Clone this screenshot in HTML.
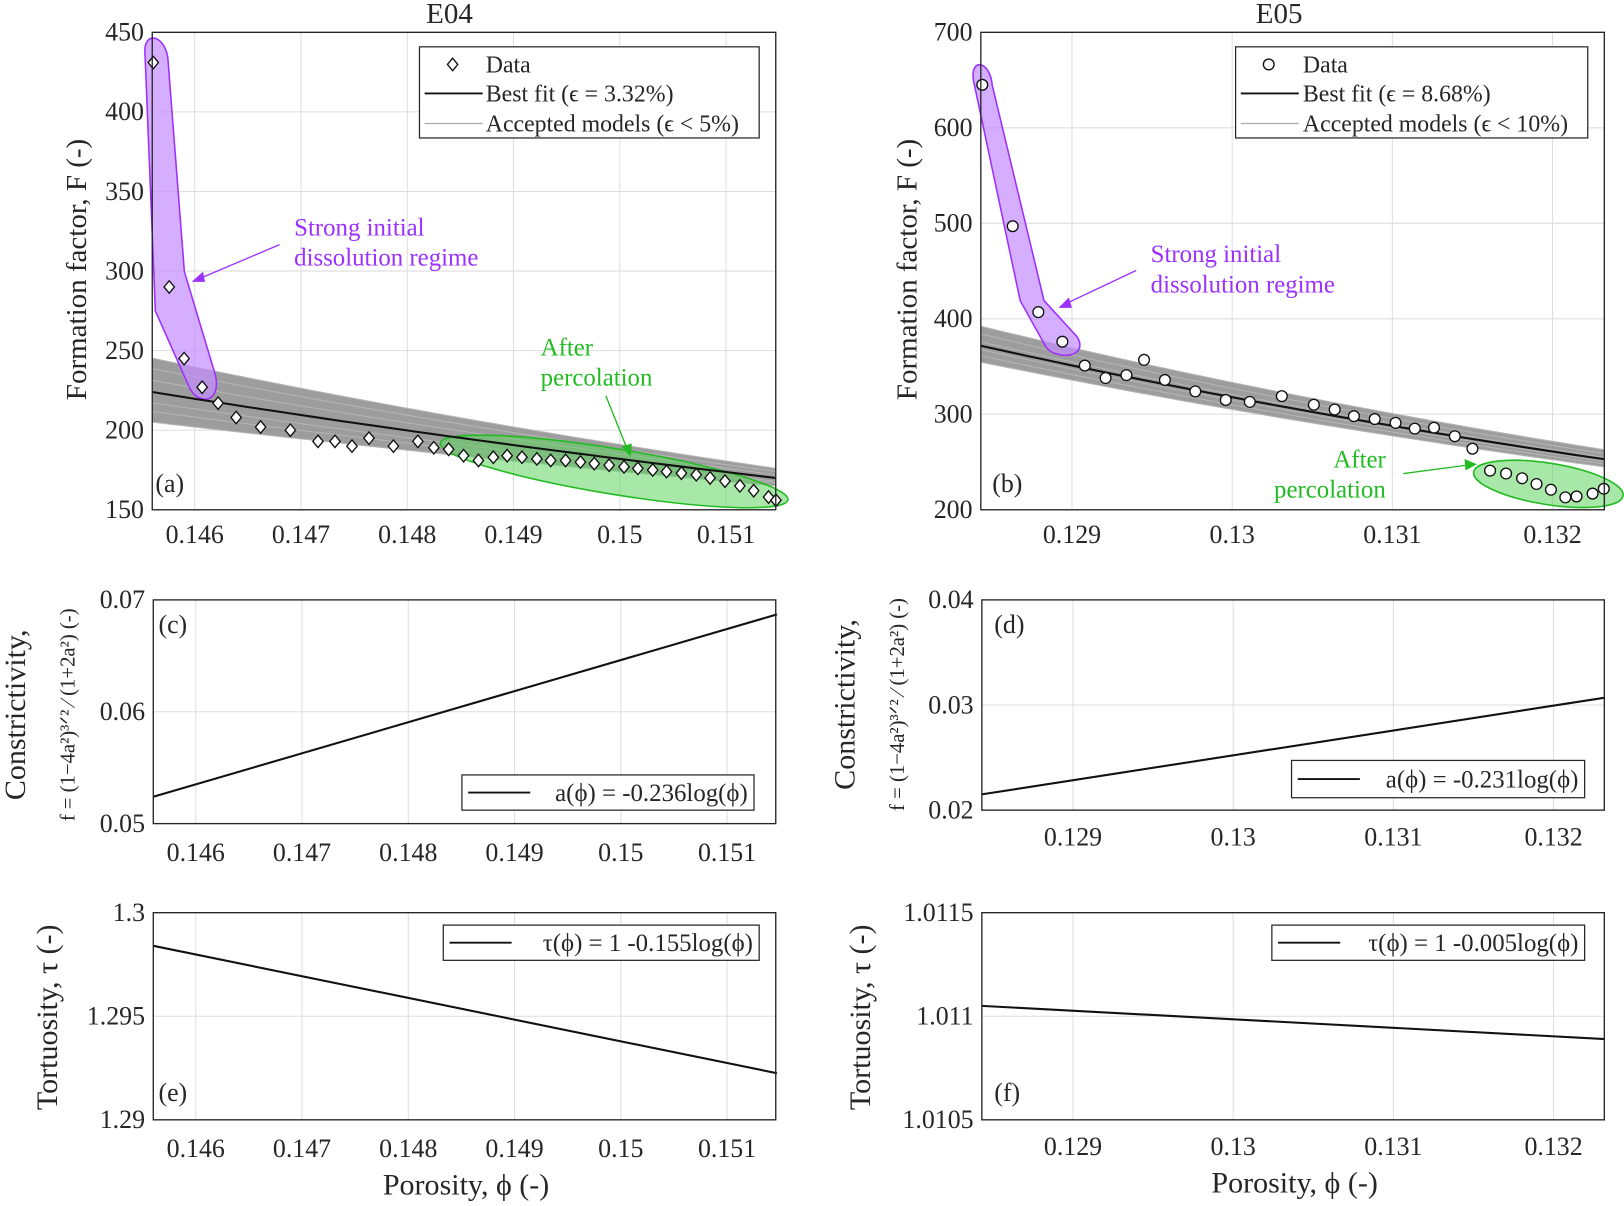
<!DOCTYPE html>
<html><head><meta charset="utf-8"><title>E04 / E05 formation factor</title>
<style>
html,body{margin:0;padding:0;background:#fff;}
svg{display:block;font-family:"Liberation Serif",serif;}
.grid{stroke:#dedede;stroke-width:1;}
.ax{fill:none;stroke:#262626;stroke-width:1.3;}
</style></head>
<body>
<svg id="fig" width="1624" height="1206" viewBox="0 0 1568 1164" xmlns="http://www.w3.org/2000/svg">
<g id="layer"></g>
</svg>
<script>
// ---------- data ----------
const aPhi = [0.14561,0.14576,0.14590,0.14607,0.14622,0.14639,0.14662,0.14690,0.14716,0.14732,0.14748,0.14764,0.14787,0.14810,0.14825,0.14839,0.14853,0.14867,0.14881,0.14894,0.14908,0.14922,0.14935,0.14949,0.14963,0.14976,0.14990,0.15004,0.15017,0.15031,0.15044,0.15058,0.15072,0.15085,0.15099,0.15113,0.15126,0.15140,0.15147];
const aF = [431,290,245,227,217,208,202,200,193,193,190,195,190,193,189,188,184,181,183,184,183,182,181,181,180,179,178,177,176,175,174,173,172,170,168,165,162,158,156];
const aFitM = 6.98, aFitF0 = 170;
const aAccM = [5.5,6.0,6.5,7.0,7.5,8.0,8.4];
const aAccF0 = [165,167,168,170,172,174,176];
const bPhi = [0.12844,0.12863,0.12879,0.12894,0.12908,0.12921,0.12934,0.12945,0.12958,0.12977,0.12996,0.13011,0.13031,0.13051,0.13064,0.13076,0.13089,0.13102,0.13114,0.13126,0.13139,0.13150,0.13161,0.13171,0.13181,0.13190,0.13199,0.13208,0.13215,0.13225,0.13232];
const bF = [645,497,407,376,351,338,341,357,336,324,315,313,319,310,305,298,295,291,285,286,277,264,241,238,233,227,221,213,214,217,222];
const bFitM = 12.9, bFitF0 = 253;
const bAccM = [12.4,12.6,12.8,13.0,13.2,13.4];
const bAccF0 = [245,248,251,255,259,263];
const cPhi = [0.1456,0.15147], cVal = [0.0524,0.0687];
const dPhi = [0.12843,0.13232], dVal = [0.0215,0.0307];
const ePhi = [0.1456,0.15147], eVal = [1.2984,1.29225];
const fPhi = [0.12843,0.13232], fVal = [1.01105,1.01089];
const xTicksA = [0.146,0.147,0.148,0.149,0.150,0.151];
const xTickLabA = ["0.146","0.147","0.148","0.149","0.15","0.151"];
const xTicksB = [0.129,0.130,0.131,0.132];
const xTickLabB = ["0.129","0.13","0.131","0.132"];

const NS="http://www.w3.org/2000/svg";
const L=document.getElementById('layer');
function mk(tag,attrs,parent){const e=document.createElementNS(NS,tag);for(const k in attrs)e.setAttribute(k,attrs[k]);(parent||L).appendChild(e);return e;}
function lin(d0,d1,r0,r1){return v=>r0+(v-d0)*(r1-r0)/(d1-d0);}
function txt(x,y,s,cls,anchor,extra){const t=mk('text',Object.assign({x:x,y:y,'text-anchor':anchor||'middle',fill:'#262626','font-size':25},extra||{}));t.textContent=s;return t;}

function axesBox(px0,py0,px1,py1,xs,xt,xl,ytV,ytL,ys,xLabY,name){
  const g=mk('g',{});
  
  
  xt.forEach((v,i)=>{const x=xs(v);
    const gl=mk('line',{x1:x,x2:x,y1:py0,y2:py1,'class':'grid'},g);
    
    
    const t=txt(x,xLabY,xl[i],'tk','middle');g.appendChild(t);
    
    
  });
  ytV.forEach((v,i)=>{const y=ys(v);
    const gl=mk('line',{x1:px0,x2:px1,y1:y,y2:y,'class':'grid'},g);
    
    
    const t=txt(px0-8,y+8,ytL[i],'tk','end');g.appendChild(t);
    
    
  });
  return g;
}
function frame(px0,py0,px1,py1){const r=mk('rect',{x:px0,y:py0,width:px1-px0,height:py1-py0,'class':'ax'});
  
  }
function pathFrom(xs,ys,phis,vals){return phis.map((p,i)=>(i?'L':'M')+xs(p).toFixed(1)+','+ys(vals[i]).toFixed(1)).join(' ');}
function curve(xs,ys,p0,p1,m,F0,pref){const pts=[];for(let i=0;i<=40;i++){const p=p0+(p1-p0)*i/40;pts.push([xs(p),ys(F0*Math.pow(p/pref,-m))]);}return pts;}
function ptsPath(pts){return pts.map((q,i)=>(i?'L':'M')+q[0].toFixed(1)+','+q[1].toFixed(1)).join(' ');}

// ================= Panel A =================
{
const px0=147,px1=749,py0=31,py1=492;
const xs=lin(0.146,0.151,188,701), ys=lin(150,450,492,31);
const pmin=0.1456,pmax=0.15147;
axesBox(px0,py0,px1,py1,xs,xTicksA,xTickLabA,[150,200,250,300,350,400,450],["150","200","250","300","350","400","450"],ys,524,'panel-a-axes');
const up=curve(xs,ys,pmin,pmax,aAccM[aAccM.length-1],aAccF0[aAccF0.length-1],pmax);
const lo=curve(xs,ys,pmin,pmax,aAccM[0],aAccF0[0],pmax);
const band=mk('path',{d:ptsPath(up)+' '+ptsPath(lo.slice().reverse()).replace('M','L')+' Z',fill:'#8c8c8c','fill-opacity':0.85,stroke:'none'});


aAccM.forEach((m,i)=>{const p=mk('path',{d:ptsPath(curve(xs,ys,pmin,pmax,m,aAccF0[i],pmax)),fill:'none',stroke:'#b5b5b5','stroke-width':1});
  
  });
const pu=mk('path',{d:'M140,52 C138,30 158,32 162,55 L178,262 L208,362 C214,390 190,392 182,372 L150,300 Z',fill:'#c58bff','fill-opacity':0.7,stroke:'#9b30ff','stroke-width':1.5});


const gr=mk('ellipse',{cx:593,cy:455,rx:170,ry:22,transform:'rotate(9.3 593 455)',fill:'#5fd35f','fill-opacity':0.55,stroke:'#22bb22','stroke-width':1.5});


const fit=mk('path',{d:ptsPath(curve(xs,ys,pmin,pmax,aFitM,aFitF0,pmax)),fill:'none',stroke:'#111','stroke-width':2});


aPhi.forEach((p,i)=>{const x=xs(p),y=ys(aF[i]);
  const d=mk('path',{d:`M${x},${y-6} L${x+5},${y} L${x},${y+6} L${x-5},${y} Z`,fill:'#fff',stroke:'#111','stroke-width':1.3});
  
  });
frame(px0,py0,px1,py1);
txt(434,22,'E04','tk','middle',{'font-size':28});
txt(150,475,'(a)','tk','start');
const yl=txt(0,0,'Formation factor, F (-)','tk','middle',{transform:'translate(83,260) rotate(-90)','font-size':28});


const lg=mk('g',{});
mk('rect',{x:405,y:45,width:328,height:88,fill:'#fff',stroke:'#262626','stroke-width':1.2},lg);
mk('path',{d:'M437,56 L442,62 L437,68 L432,62 Z',fill:'#fff',stroke:'#111','stroke-width':1.3},lg);
lg.appendChild(txt(469,70,'Data','tk','start',{'font-size':23}));
mk('line',{x1:410,x2:466,y1:90,y2:90,stroke:'#111','stroke-width':1.8},lg);
lg.appendChild(txt(469,98,'Best fit (ϵ = 3.32%)','tk','start',{'font-size':23}));
mk('line',{x1:410,x2:466,y1:119,y2:119,stroke:'#aaa','stroke-width':1.2},lg);
lg.appendChild(txt(469,127,'Accepted models (ϵ < 5%)','tk','start',{'font-size':23}));
txt(284,227,'Strong initial','tk','start',{fill:'#9b30ff','font-size':24});
txt(284,256,'dissolution regime','tk','start',{fill:'#9b30ff','font-size':24});
mk('line',{x1:270,y1:236,x2:192,y2:269,stroke:'#9b30ff','stroke-width':1.3});
mk('path',{d:'M185,272 L196,262 L198,272 Z',fill:'#9b30ff'});
txt(522,343,'After','tk','start',{fill:'#22bb22','font-size':24});
txt(522,372,'percolation','tk','start',{fill:'#22bb22','font-size':24});
mk('line',{x1:585,y1:382,x2:605,y2:432,stroke:'#22bb22','stroke-width':1.3});
mk('path',{d:'M609,441 L600,431 L610,428 Z',fill:'#22bb22'});
}

// ================= Panel B =================
{
const px0=947,px1=1549,py0=31,py1=492;
const xs=lin(0.129,0.132,1035,1499), ys=lin(200,700,492,31);
const pmin=0.12843,pmax=0.13232;
axesBox(px0,py0,px1,py1,xs,xTicksB,xTickLabB,[200,300,400,500,600,700],["200","300","400","500","600","700"],ys,524,'panel-b-axes');
const up=curve(xs,ys,pmin,pmax,bAccM[bAccM.length-1],bAccF0[bAccF0.length-1],pmax);
const lo=curve(xs,ys,pmin,pmax,bAccM[0],bAccF0[0],pmax);
const band=mk('path',{d:ptsPath(up)+' '+ptsPath(lo.slice().reverse()).replace('M','L')+' Z',fill:'#8c8c8c','fill-opacity':0.85,stroke:'none'});


bAccM.forEach((m,i)=>{const p=mk('path',{d:ptsPath(curve(xs,ys,pmin,pmax,m,bAccF0[i],pmax)),fill:'none',stroke:'#b5b5b5','stroke-width':1});
  
  });
const pu=mk('path',{d:'M940,78 C936,55 956,58 958,82 L1008,290 L1040,325 C1052,345 1020,348 1010,335 L985,290 Z',fill:'#c58bff','fill-opacity':0.7,stroke:'#9b30ff','stroke-width':1.5});


const gr=mk('ellipse',{cx:1495,cy:467,rx:73,ry:20,transform:'rotate(9 1495 467)',fill:'#5fd35f','fill-opacity':0.55,stroke:'#22bb22','stroke-width':1.5});


const fit=mk('path',{d:ptsPath(curve(xs,ys,pmin,pmax,bFitM,bFitF0,pmax)),fill:'none',stroke:'#111','stroke-width':2});


bPhi.forEach((p,i)=>{const c=mk('circle',{cx:xs(p),cy:ys(bF[i]),r:5.2,fill:'#fff',stroke:'#111','stroke-width':1.3});
  
  });
frame(px0,py0,px1,py1);
txt(1235,22,'E05','tk','middle',{'font-size':28});
txt(958,475,'(b)','tk','start');
const yl=txt(0,0,'Formation factor, F (-)','tk','middle',{transform:'translate(885,260) rotate(-90)','font-size':28});


const lg=mk('g',{});
mk('rect',{x:1193,y:45,width:340,height:88,fill:'#fff',stroke:'#262626','stroke-width':1.2},lg);
mk('circle',{cx:1225,cy:62,r:5.2,fill:'#fff',stroke:'#111','stroke-width':1.3},lg);
lg.appendChild(txt(1258,70,'Data','tk','start',{'font-size':23}));
mk('line',{x1:1198,x2:1254,y1:90,y2:90,stroke:'#111','stroke-width':1.8},lg);
lg.appendChild(txt(1258,98,'Best fit (ϵ = 8.68%)','tk','start',{'font-size':23}));
mk('line',{x1:1198,x2:1254,y1:119,y2:119,stroke:'#aaa','stroke-width':1.2},lg);
lg.appendChild(txt(1258,127,'Accepted models (ϵ < 10%)','tk','start',{'font-size':23}));
txt(1111,253,'Strong initial','tk','start',{fill:'#9b30ff','font-size':24});
txt(1111,282,'dissolution regime','tk','start',{fill:'#9b30ff','font-size':24});
mk('line',{x1:1097,y1:261,x2:1029,y2:293,stroke:'#9b30ff','stroke-width':1.3});
mk('path',{d:'M1022,297 L1032,287 L1035,297 Z',fill:'#9b30ff'});
txt(1338,451,'After','tk','end',{fill:'#22bb22','font-size':24});
txt(1338,480,'percolation','tk','end',{fill:'#22bb22','font-size':24});
mk('line',{x1:1355,y1:457,x2:1416,y2:449,stroke:'#22bb22','stroke-width':1.3});
mk('path',{d:'M1426,448 L1414,443 L1415,454 Z',fill:'#22bb22'});
}

// ================= Line panels =================
function linePanel(px0,py0,px1,py1,xs,xt,xl,yr,ytV,ytL,xLabY,phis,vals,label,leg,lgBox,name){
  const ys=lin(yr[0],yr[1],py1,py0);
  axesBox(px0,py0,px1,py1,xs,xt,xl,ytV,ytL,ys,xLabY,name);
  const p=mk('path',{d:pathFrom(xs,ys,phis,vals),fill:'none',stroke:'#111','stroke-width':2});
  
  
  frame(px0,py0,px1,py1);
  const lg=mk('g',{});
  
  
  mk('rect',{x:lgBox[0],y:lgBox[1],width:lgBox[2]-lgBox[0],height:lgBox[3]-lgBox[1],fill:'#fff',stroke:'#262626','stroke-width':1.2},lg);
  const my=(lgBox[1]+lgBox[3])/2;
  mk('line',{x1:lgBox[0]+6,x2:lgBox[0]+66,y1:my,y2:my,stroke:'#111','stroke-width':1.8},lg);
  lg.appendChild(txt(lgBox[2]-6,my+8,leg,'tk','end',{'font-size':24}));
  const pl=txt(label[1],label[2],label[0],'tk','start');
  
  
}
const xsA2=lin(0.146,0.151,189,702), xsB2=lin(0.129,0.132,1036,1500);
linePanel(148,579,749,795,xsA2,xTicksA,xTickLabA,[0.05,0.07],[0.05,0.06,0.07],["0.05","0.06","0.07"],831,cPhi,cVal,['(c)',153,611],'a(ϕ) = -0.236log(ϕ)',[446,748,728,782],'panel-c-axes');
linePanel(948,579,1549,782,xsB2,xTicksB,xTickLabB,[0.02,0.04],[0.02,0.03,0.04],["0.02","0.03","0.04"],816,dPhi,dVal,['(d)',960,611],'a(ϕ) = -0.231log(ϕ)',[1247,734,1530,770],'panel-d-axes');
linePanel(148,881,749,1081,xsA2,xTicksA,xTickLabA,[1.29,1.3],[1.29,1.295,1.3],["1.29","1.295","1.3"],1117,ePhi,eVal,['(e)',153,1063],'τ(ϕ) = 1 -0.155log(ϕ)',[428,893,733,927],'panel-e-axes');
linePanel(948,881,1549,1081,xsB2,xTicksB,xTickLabB,[1.0105,1.0115],[1.0105,1.011,1.0115],["1.0105","1.011","1.0115"],1115,fPhi,fVal,['(f)',960,1063],'τ(ϕ) = 1 -0.005log(ϕ)',[1228,893,1530,927],'panel-f-axes');

function rot(s,x,y,size,name){const t=txt(0,0,s,'tk','middle',{transform:`translate(${x},${y}) rotate(-90)`,'font-size':size});
  
  return t;}
rot('Constrictivity,',24,690,29,'y-axis-title');
rot('f =  (1−4a²)³ᐟ² ⁄ (1+2a²)   (-)',72,690,20,'y-axis-formula');
rot('Constrictivity,',825,680,29,'y-axis-title');
rot('f =  (1−4a²)³ᐟ² ⁄ (1+2a²)   (-)',873,680,20,'y-axis-formula');
rot('Tortuosity, τ (-)',55,982,29,'y-axis-title');
rot('Tortuosity,  τ  (-)',840,982,29,'y-axis-title');
const x1=txt(450,1153,'Porosity, ϕ (-)','tk','middle',{'font-size':29});


const x2=txt(1250,1151,'Porosity, ϕ (-)','tk','middle',{'font-size':29});


</script>
</body></html>
